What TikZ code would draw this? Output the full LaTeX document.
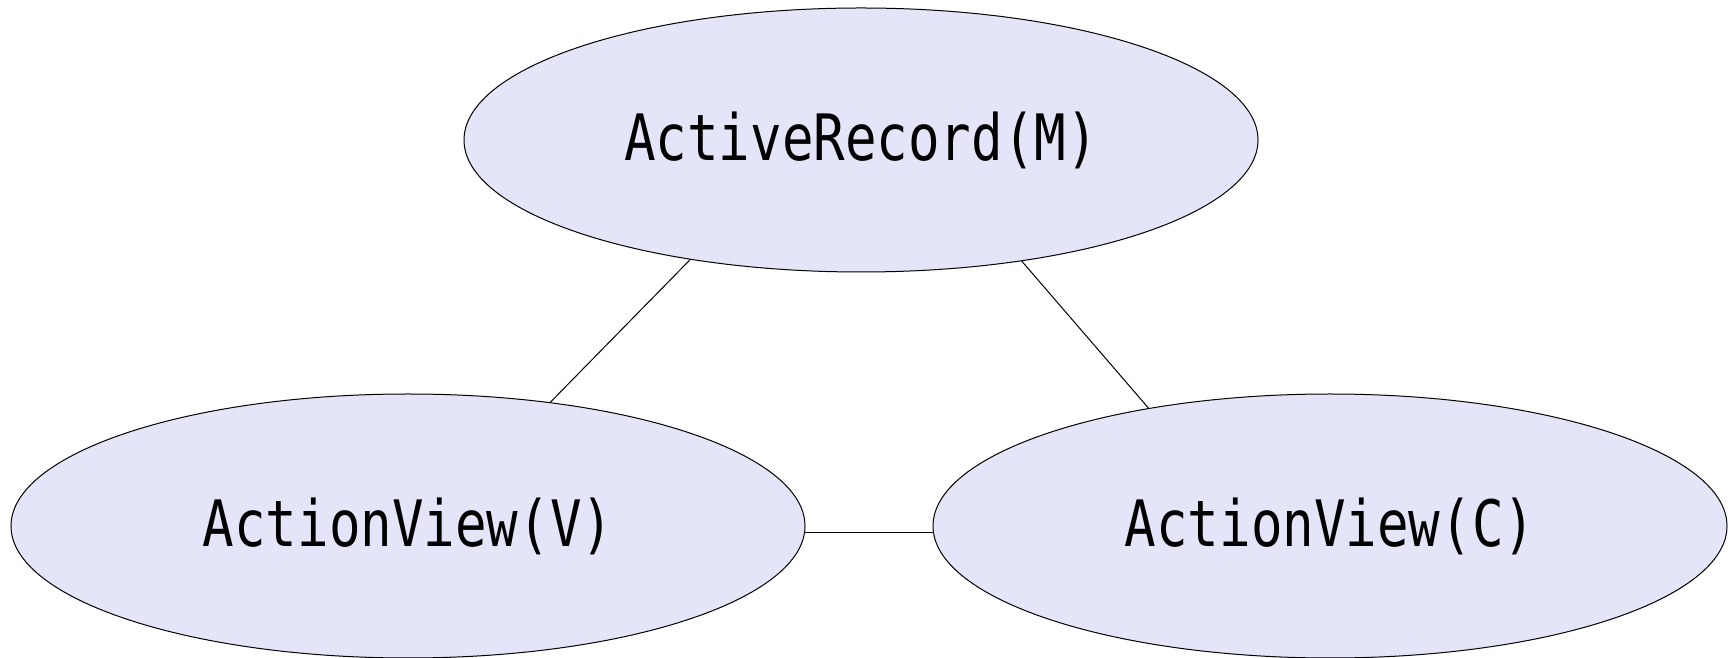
\documentclass[tikz,border=0pt]{standalone}
\usepackage{fontspec}
\usepackage{tikz}
\usetikzlibrary{shapes}
\newfontfamily\railsfont[FakeStretch=0.82]{DejaVu Sans Mono}
\definecolor{mylavender}{RGB}{229,229,250}

\begin{document}
\begin{tikzpicture}[x=1pt,y=1pt,
		  every node/.style={draw,ellipse,fill=mylavender,line width=0.5pt,
		    minimum width=397pt,minimum height=132pt,inner sep=0pt,
		    font=\railsfont\fontsize{32}{36}\selectfont},
		  line width=0.5pt
		]
			\useasboundingbox (0,0) rectangle (864,329);

			% the model
			\node (model) at (430.5,259) {ActiveRecord(M)};

			% view and controller
			\node (view) at (204,66) {ActionView(V)};
			\node (ctrl) at (665,66) {ActionView(C)};

			% the edges
			\draw (model.215) -- (view.41.7);
			\draw (model.323.6) -- (ctrl.147.3);
			\draw (view.-1.1) -- (ctrl.181.1);

		\end{tikzpicture}
\end{document}
